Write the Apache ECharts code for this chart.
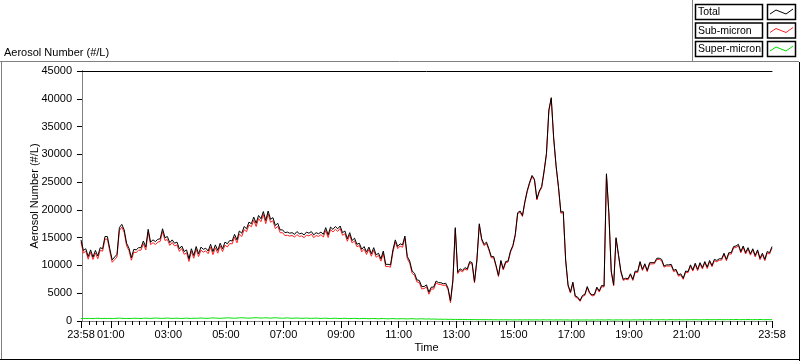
<!DOCTYPE html>
<html><head><meta charset="utf-8">
<script src="https://cdn.jsdelivr.net/npm/echarts@6/dist/echarts.min.js"></script>
<style>html,body{margin:0;padding:0;background:#fff}#c{width:800px;height:361px}</style>
</head><body><div id="c"></div>
<script>
// ---- data ----
const seriesNames = ['Total', 'Sub-micron', 'Super-micron'];
const startMinute = -2;   // 23:58 of previous day, minutes relative to midnight
const stepMinutes = 5;    // sampling step of the arrays below
const total = [
14600,12700,13000,11600,12800,11500,12700,11700,13200,13000,15200,15200,13000,11000,11500,12000,16800,17400,16400,14000,13100,11400,12900,12800,
13200,13200,14400,13300,16500,14200,14600,14300,14700,14800,16600,15000,15200,14100,14600,14000,14200,13000,13500,12500,12800,11200,13000,11800,
13400,12100,13300,12900,13100,12600,13800,12500,13700,12700,14000,13000,14200,13900,14500,14400,15600,14600,16200,15800,17000,16600,17800,17500,
18700,17600,19000,18400,19700,18100,19800,18300,18600,17200,17600,16400,16400,15900,16000,15800,15900,15600,16100,15700,15800,15500,16000,15800,
16100,15500,15900,15700,16000,15600,16800,15500,16900,16500,17000,16600,17100,15900,16200,14800,15900,14500,14900,13800,14000,12900,13400,12400,
13300,12100,13200,11900,12200,11200,12600,10200,10200,10100,12800,14600,13400,13900,13700,15300,11600,10800,9000,8600,7400,7300,6200,6200,
6500,5200,6100,6100,7200,6900,6900,6700,6800,5900,3600,7400,16800,8800,9400,9100,9600,9400,10700,10500,7100,11000,17500,14800,
13800,14200,13000,11600,11600,10000,8200,10900,9400,10700,10800,12600,13600,15600,19500,19800,19000,21500,23500,25000,26200,25500,22000,23400,
24200,27000,30200,38000,40200,33000,28000,24200,19600,19700,11000,6500,5200,7000,4500,4300,3700,4600,4800,6200,5100,4700,4800,6100,
5400,6400,6300,26500,19500,9000,6500,15000,12000,9000,7500,7700,7600,8500,7500,9000,8900,10700,9300,10300,9100,10500,10500,10500,
11300,11300,11100,9900,10100,10100,10200,9100,9300,8300,8500,7700,9000,8900,10100,9200,10400,9300,10500,9600,10700,9700,10900,10000,
11100,10900,11200,11200,12200,11100,12300,12300,13400,13500,13800,12500,13500,12300,13200,12100,13000,11800,12800,11300,12200,11100,12500,12300,
13400];
const subMicron = [
14180,12240,12560,11120,12350,11070,12230,11200,12740,12560,14720,14750,12530,10570,11040,11510,16280,16920,15950,13530,12660,10940,12400,12320,
12730,12750,13910,12780,16020,13740,14100,13760,14190,14320,16130,14500,14670,13610,14140,13520,13690,12530,13050,12010,12280,10720,12540,11300,
12920,11590,12760,12400,12630,12110,13280,11940,13170,12200,13520,12490,13660,13320,13950,13880,15100,14070,15640,15210,16440,16070,17290,16960,
18130,17000,18440,17870,19150,17520,19260,17780,18040,16610,17050,15880,15900,15370,15440,15280,15410,15090,15560,15200,15320,15000,15470,15310,
15630,15000,15380,15220,15540,15110,16290,15030,16450,16020,16500,16140,16660,15430,15710,14350,15470,14040,14420,13360,13580,12450,12930,11970,
12890,11660,12740,11480,11800,10770,12150,9790,9810,9680,12360,14200,13020,13490,13270,14910,11230,10400,8580,8220,7040,6910,5790,5830,
6150,4820,5770,5740,6860,6590,6570,6400,6480,5610,3290,7120,16500,8530,9110,8840,9320,9150,10430,10260,6840,10770,17250,14560,
13570,13950,12780,11360,11390,9770,8000,10680,9190,10470,10600,12380,13410,15390,19300,19580,18810,21290,23300,24780,26010,25300,21790,23210,
24000,26780,30010,37790,40000,32820,27800,24010,19390,19520,10800,6310,5030,6810,4320,4100,3530,4410,4620,6000,4930,4510,4620,5900,
5210,6190,6120,26300,19270,8810,6320,14800,11810,8790,7320,7500,7410,8320,7300,8790,8710,10480,9100,10070,8890,10260,10280,10300,
11070,11090,10860,9680,9900,9870,9950,8880,9090,8060,8280,7500,8770,8690,9860,8980,10150,9070,10290,9360,10480,9440,10660,9780,
10850,10670,10940,10960,11980,10850,12070,12040,13160,13230,13550,12270,13240,12060,12930,11850,12770,11540,12560,11030,11950,10870,12240,12060,
13150];
const superMicron = [
420,460,440,480,450,430,470,500,460,440,480,450,470,430,460,490,520,480,450,470,440,460,500,480,
470,450,490,520,480,460,500,540,510,480,470,500,530,490,460,480,510,470,450,490,520,480,460,500,
480,510,540,500,470,490,520,560,530,500,480,510,540,580,550,520,500,530,560,590,560,530,510,540,
570,600,560,530,550,580,540,520,560,590,550,520,500,530,560,520,490,510,540,500,480,500,530,490,
470,500,520,480,460,490,510,470,450,480,500,460,440,470,490,450,430,460,480,440,420,450,470,430,
410,440,460,420,400,430,450,410,390,420,440,400,380,410,430,390,370,400,420,380,360,390,410,370,
350,380,330,360,340,310,330,300,320,290,310,280,300,270,290,260,280,250,270,240,260,230,250,240,
230,250,220,240,210,230,200,220,210,230,200,220,190,210,200,220,190,210,200,220,190,200,210,190,
200,220,190,210,200,180,200,190,210,180,200,190,170,190,180,200,170,190,180,200,170,190,180,200,
190,210,180,200,230,190,180,200,190,210,180,200,190,180,200,210,190,220,200,230,210,240,220,200,
230,210,240,220,200,230,250,220,210,240,220,200,230,210,240,220,250,230,210,240,220,260,240,220,
250,230,260,240,220,250,230,260,240,270,250,230,260,240,270,250,230,260,240,270,250,230,260,240,
250];
const xMajorTicks = [-2, 60, 180, 300, 420, 540, 660, 780, 900, 1020, 1140, 1260, 1438];
const xMinorStep = 15;
const yMin = 0, yMax = 45000, yStep = 5000;
const xMin = -2, xMax = 1438;

// ---- chart ----
const FONT = 'Liberation Sans';
const xs = total.map((_, i) => startMinute + i * stepMinutes);
const pair = arr => arr.map((v, i) => [xs[i], v]);
const minorTicks = [];
for (let m = xMinorStep; m < xMax; m += xMinorStep) minorTicks.push(m);
const fmt = v => {
  const m = ((Math.round(v) % 1440) + 1440) % 1440;
  const h = Math.floor(m / 60), mm = m % 60;
  return String(h).padStart(2, '0') + ':' + String(mm).padStart(2, '0');
};
const chart = echarts.init(document.getElementById('c'), null, {renderer: 'canvas'});
const gridL = 81, gridT = 71, gridW = 691, gridH = 250;
const colors = ['#000000', '#ff2020', '#00e000'];
function legendItem(i, y) {
  return [
    {type: 'rect', shape: {x: 695.5, y: y + 0.5, width: 67, height: 15}, style: {fill: '#fff', stroke: '#000', lineWidth: 1.5}},
    {type: 'text', x: 698, y: y + 3, style: {text: seriesNames[i], font: '10.5px ' + FONT, fill: '#000'}},
    {type: 'rect', shape: {x: 767.5, y: y + 0.5, width: 28, height: 15}, style: {fill: '#fff', stroke: '#000', lineWidth: 1.5}},
    {type: 'polyline', shape: {points: [[770, y + 10], [776, y + 6], [781, y + 8], [786, y + 10], [793, y + 5]]}, style: {stroke: colors[i], lineWidth: 1, fill: null}}
  ];
}
chart.setOption({
  animation: false,
  backgroundColor: '#fff',
  textStyle: {fontFamily: FONT},
  grid: {left: gridL, top: gridT, width: gridW, height: gridH, containLabel: false},
  xAxis: [
    {type: 'value', min: xMin, max: xMax, position: 'bottom',
     name: 'Time', nameLocation: 'middle', nameGap: 21, nameMoveOverlap: false,
     nameTextStyle: {fontSize: 11, color: '#000', fontFamily: FONT},
     axisLine: {show: true, lineStyle: {color: '#808080', width: 1}},
     axisTick: {show: true, length: 7, customValues: xMajorTicks, lineStyle: {color: '#000'}},
     axisLabel: {show: true, customValues: xMajorTicks, formatter: fmt, margin: 8, fontSize: 11, color: '#000', fontFamily: FONT, hideOverlap: false, showMinLabel: true, showMaxLabel: true},
     splitLine: {show: false}},
    {type: 'value', min: xMin, max: xMax, position: 'bottom', gridIndex: 0,
     axisLine: {show: false},
     axisTick: {show: true, length: 4, customValues: minorTicks, lineStyle: {color: '#000'}},
     axisLabel: {show: false}, splitLine: {show: false}},
    {type: 'value', min: xMin, max: xMax, position: 'top',
     axisLine: {show: true, lineStyle: {color: '#000', width: 1}},
     axisTick: {show: false}, axisLabel: {show: false}, splitLine: {show: false}}
  ],
  yAxis: [
    {type: 'value', min: yMin, max: yMax, interval: yStep, position: 'left',
     name: 'Aerosol Number (#/L)', nameLocation: 'middle', nameGap: 41, nameRotate: 90, nameMoveOverlap: false,
     nameTextStyle: {fontSize: 11, color: '#000', fontFamily: FONT},
     axisLine: {show: true, lineStyle: {color: '#000', width: 1}},
     axisTick: {show: true, length: 5, lineStyle: {color: '#000'}},
     axisLabel: {margin: 9, fontSize: 11, color: '#000', fontFamily: FONT, formatter: v => String(v)},
     splitLine: {show: false}},
    {type: 'value', min: yMin, max: yMax, interval: yStep, position: 'right',
     axisLine: {show: true, lineStyle: {color: '#808080', width: 1}},
     axisTick: {show: false}, axisLabel: {show: false}, splitLine: {show: false}}
  ],
  series: [
    {name: seriesNames[1], type: 'line', data: pair(subMicron), showSymbol: false, symbol: 'none',
     lineStyle: {color: colors[1], width: 1}, z: 2},
    {name: seriesNames[0], type: 'line', data: pair(total), showSymbol: false, symbol: 'none',
     lineStyle: {color: colors[0], width: 1}, z: 3},
    {name: seriesNames[2], type: 'line', data: pair(superMicron), showSymbol: false, symbol: 'none',
     lineStyle: {color: colors[2], width: 1}, z: 4}
  ],
  graphic: [
    {type: 'text', x: 4, y: 47, style: {text: 'Aerosol Number (#/L)', font: '11px ' + FONT, fill: '#000'}},
    {type: 'line', shape: {x1: 0, y1: 61.5, x2: 799, y2: 61.5}, style: {stroke: '#808080', lineWidth: 1}},
    {type: 'line', shape: {x1: 692.5, y1: 0, x2: 692.5, y2: 61.5}, style: {stroke: '#808080', lineWidth: 1}},
    {type: 'line', shape: {x1: 1.5, y1: 61.5, x2: 1.5, y2: 359}, style: {stroke: '#808080', lineWidth: 1}},
    {type: 'line', shape: {x1: 799.5, y1: 62, x2: 799.5, y2: 361}, style: {stroke: '#000', lineWidth: 1}},
    {type: 'line', shape: {x1: 0, y1: 359.5, x2: 800, y2: 359.5}, style: {stroke: '#000', lineWidth: 1}},
    ...legendItem(0, 4),
    ...legendItem(1, 22.5),
    ...legendItem(2, 41)
  ]
});
</script></body></html>
